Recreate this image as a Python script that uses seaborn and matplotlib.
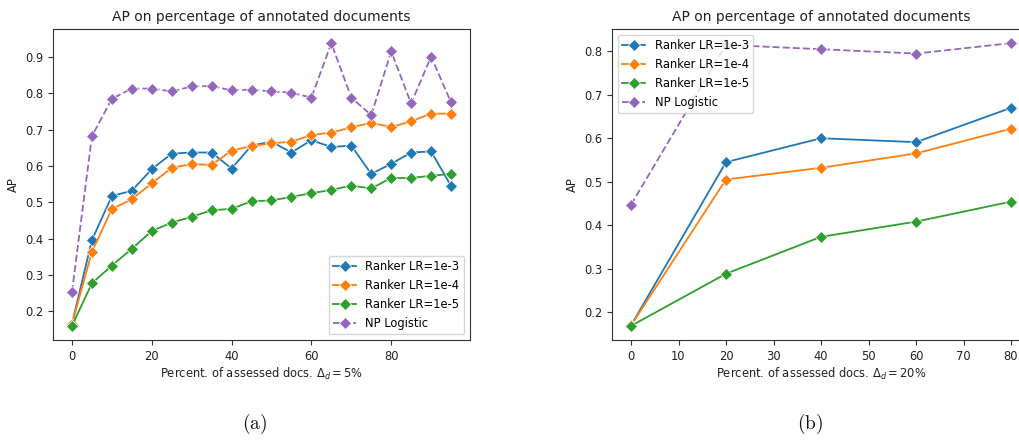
import matplotlib
matplotlib.use("Agg")
import matplotlib.pyplot as plt
import seaborn as sns
import pandas as pd

# ---- data: panel (a), step 5% ----
x_a = [0, 5, 10, 15, 20, 25, 30, 35, 40, 45, 50, 55, 60, 65, 70, 75, 80, 85, 90, 95]
lr3_a = [0.165, 0.396, 0.517, 0.532, 0.591, 0.634, 0.637, 0.637, 0.593, 0.656,
         0.667, 0.637, 0.671, 0.652, 0.656, 0.578, 0.606, 0.637, 0.640, 0.545]
lr4_a = [0.165, 0.364, 0.481, 0.509, 0.552, 0.595, 0.605, 0.603, 0.642, 0.655,
         0.662, 0.667, 0.685, 0.692, 0.706, 0.719, 0.707, 0.723, 0.744, 0.744]
lr5_a = [0.160, 0.277, 0.326, 0.372, 0.421, 0.444, 0.460, 0.478, 0.482, 0.503,
         0.505, 0.515, 0.525, 0.534, 0.546, 0.538, 0.567, 0.567, 0.573, 0.578]
np_a = [0.253, 0.682, 0.785, 0.813, 0.813, 0.805, 0.819, 0.820, 0.808, 0.810,
        0.805, 0.802, 0.788, 0.938, 0.788, 0.740, 0.915, 0.772, 0.901, 0.775]

# ---- data: panel (b), step 20% ----
x_b = [0, 20, 40, 60, 80]
lr3_b = [0.169, 0.545, 0.600, 0.591, 0.670]
lr4_b = [0.169, 0.505, 0.532, 0.565, 0.622]
lr5_b = [0.168, 0.288, 0.373, 0.408, 0.454]
np_b = [0.447, 0.815, 0.805, 0.795, 0.819]

series_names = ["Ranker LR=1e-3", "Ranker LR=1e-4", "Ranker LR=1e-5", "NP Logistic"]
colors = ["#1f77b4", "#ff7f0e", "#2ca02c", "#9467bd"]

title = "AP on percentage of annotated documents"
xlabel_a = r"Percent. of assessed docs. $\Delta_d = 5\%$"
xlabel_b = r"Percent. of assessed docs. $\Delta_d = 20\%$"


def long_df(x, cols):
    rows = []
    for name, ys in zip(series_names, cols):
        for xi, yi in zip(x, ys):
            rows.append({"x": xi, "AP": yi, "series": name})
    return pd.DataFrame(rows)


df_a = long_df(x_a, [lr3_a, lr4_a, lr5_a, np_a])
df_b = long_df(x_b, [lr3_b, lr4_b, lr5_b, np_b])

W, H = 1019, 440
fig = plt.figure(figsize=(W / 100, H / 100), dpi=100)
ax_a = fig.add_axes([53 / W, 1 - 340 / H, (470 - 53) / W, (340 - 29) / H])
ax_b = fig.add_axes([612 / W, 1 - 340 / H, (1030 - 612) / W, (340 - 29) / H])

palette = dict(zip(series_names, colors))
markers = {n: "D" for n in series_names}
dashes = {n: "" for n in series_names}
dashes["NP Logistic"] = (3.9, 1.7)

FS = 8.3
for ax, df, xl, loc in [(ax_a, df_a, xlabel_a, "lower right"),
                        (ax_b, df_b, xlabel_b, "upper left")]:
    sns.lineplot(data=df, x="x", y="AP", hue="series", style="series",
                 palette=palette, markers=markers, dashes=dashes,
                 markersize=6.3, linewidth=1.3, markeredgewidth=0.5,
                 ax=ax, legend=True)
    ax.set_title(title, fontsize=10, color="#222222")
    ax.set_xlabel(xl, fontsize=FS, color="#222222", labelpad=2)
    ax.set_ylabel("AP", fontsize=FS, color="#222222")
    ax.tick_params(labelsize=FS, labelcolor="#222222", color="#333333")
    for s in ax.spines.values():
        s.set_color("#333333")
    ax.legend(loc=loc, fontsize=FS, title=None)

ax_b.set_xticks([0, 10, 20, 30, 40, 50, 60, 70, 80])
ax_a.set_xticks([0, 20, 40, 60, 80])

fig.text(255 / W, 1 - 424 / H, r"$\mathrm{(a)}$", ha="center", va="center",
         fontsize=14, math_fontfamily="cm", color="#111111")
fig.text(810 / W, 1 - 424 / H, r"$\mathrm{(b)}$", ha="center", va="center",
         fontsize=14, math_fontfamily="cm", color="#111111")

fig.savefig("out.png", dpi=100)
